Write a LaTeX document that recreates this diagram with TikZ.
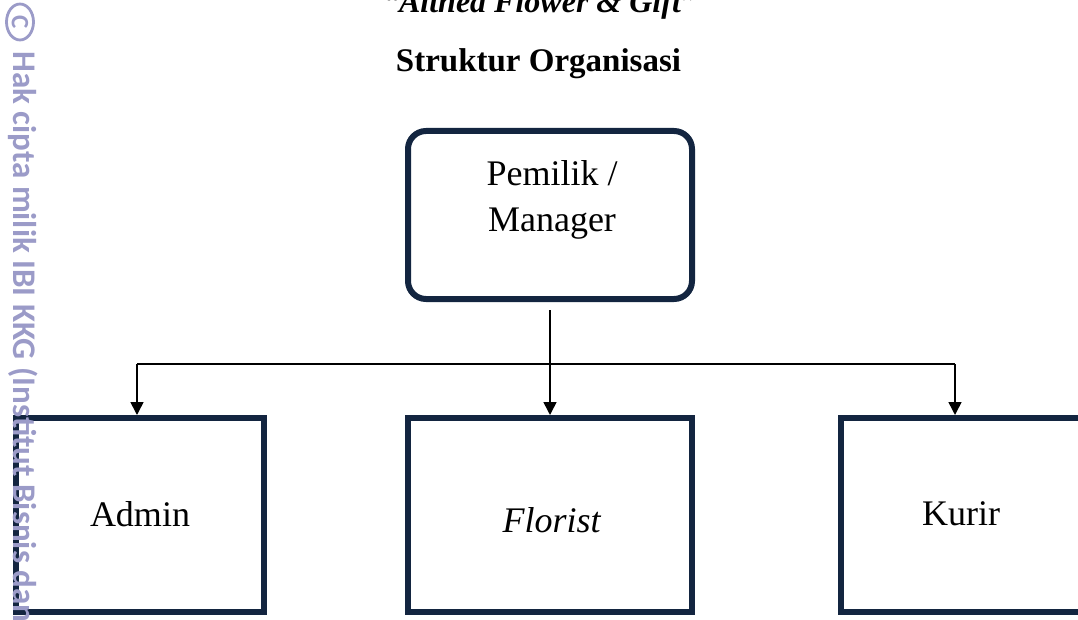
\documentclass[tikz,border=0pt]{standalone}
\usepackage{fontspec}
\setmainfont{Liberation Serif}
\newfontfamily\wmfont{Carlito}
\usetikzlibrary{arrows.meta,shapes.geometric}
\definecolor{navy}{RGB}{19,37,64}
\definecolor{wmcol}{RGB}{155,155,200}
\begin{document}
\begin{tikzpicture}[x=1pt,y=-1pt,
  unitbox/.style={draw=navy,line width=6pt,inner sep=0pt,minimum height=194pt},
  bossbox/.style={draw=navy,line width=6pt,inner sep=0pt,minimum width=284pt,minimum height=168pt,rounded corners=18pt},
  lbl/.style={font=\fontsize{36}{46}\selectfont,inner sep=0pt,anchor=base},
  conn/.style={line width=1.6pt,black},
  arr/.style={conn,-{Triangle[length=13pt,width=13pt]}},
  wmtext/.style={text=wmcol,font=\wmfont\bfseries\fontsize{33}{33}\selectfont,inner sep=0pt}]
\useasboundingbox (0,0) rectangle (1078,620);
\clip (0,0) rectangle (1078,620);
% titles
\node[font=\bfseries\itshape\fontsize{32}{38}\selectfont,anchor=base,inner sep=0pt] (t1) at (540,13) {“Althea Flower \& Gift”};
\node[font=\bfseries\fontsize{33}{40}\selectfont,anchor=base,inner sep=0pt] (t2) at (538.5,72) {Struktur Organisasi};
% boxes
\node[bossbox] (m) at (550,215) {};
\node[unitbox,minimum width=248pt] (a) at (140,515) {};
\node[unitbox,minimum width=284pt] (f) at (550,515) {};
\node[unitbox,minimum width=240pt] (k) at (961,515) {};
% texts
\node[lbl,anchor=center,align=center] (mt) at (552,199.6) {Pemilik /\\Manager};
\node[lbl] (at) at (140,526) {Admin};
\node[lbl] (ft) at (552,532) {\textit{Florist}};
\node[lbl] (kt) at (961,525) {Kurir};
% connectors
\coordinate (top) at ([yshift=-8pt]m.south);
\coordinate (la) at (137,364);
\coordinate (ra) at (955,364);
\draw[conn] (la) -- (ra);
\draw[arr] (top) -- (top |- f.north);
\draw[arr] (la) -- (la |- a.north);
\draw[arr] (ra) -- (ra |- k.north);
% watermark
\node[wmtext,rotate=-90,anchor=base west] (wm) at (13,51) {Hak cipta milik IBI KKG (Institut Bisnis dan};
\node[ellipse,draw=wmcol,line width=2.8pt,minimum width=36pt,minimum height=27pt,inner sep=0pt,
      rotate=-90,text=wmcol,font=\wmfont\bfseries\fontsize{25}{25}\selectfont] (cp) at (20,22) {C};
\end{tikzpicture}
\end{document}
